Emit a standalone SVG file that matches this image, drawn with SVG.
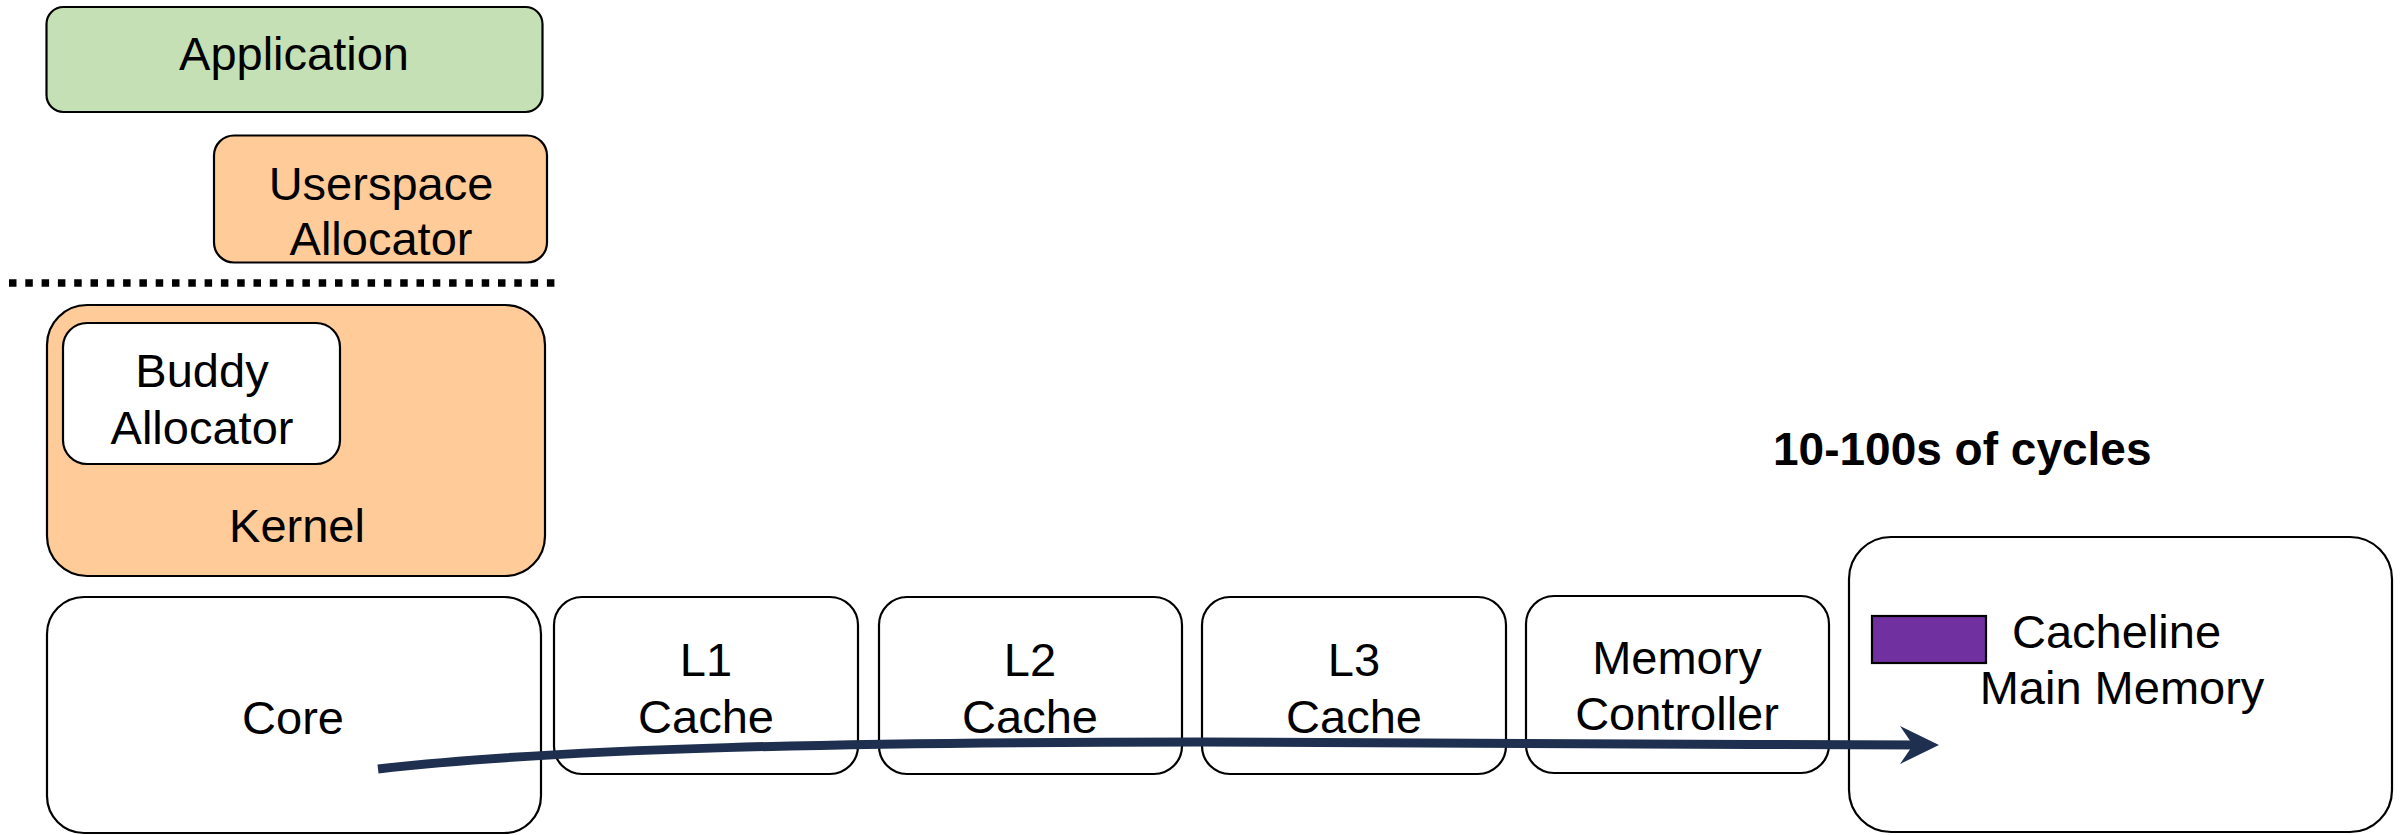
<svg xmlns="http://www.w3.org/2000/svg" width="2402" height="835" viewBox="0 0 2402 835">
  <style>
    .box { stroke: #000; stroke-width: 2.2; }
    .white { fill: #fff; }
    .orange { fill: #FFCC99; }
    .green { fill: #C5E0B4; }
    .lbl { font-family: "Liberation Sans", Arial, sans-serif; font-size: 47px; fill: #000; text-anchor: middle; }
    .title { font-family: "Liberation Sans", Arial, sans-serif; font-size: 46px; font-weight: bold; fill: #000; }
    .flow { fill: none; stroke: #1E2F50; stroke-width: 9; }
  </style>
  <defs>
    <marker id="stealth" markerUnits="userSpaceOnUse" markerWidth="40" markerHeight="40" viewBox="0 0 40 40" refX="25" refY="19" orient="auto">
      <path d="M0,0 L39,19 L0,38 L13,19 Z" fill="#1E2F50"/>
    </marker>
  </defs>

  <rect width="2402" height="835" fill="#fff"/>

  <!-- user / kernel boundary -->
  <line x1="9" y1="283" x2="558" y2="283" stroke="#000" stroke-width="7.5" stroke-dasharray="7.5 8.8"/>

  <g id="application">
    <rect class="box green" x="46.5" y="7" width="496" height="105" rx="17"/>
    <text class="lbl" x="294" y="70">Application</text>
  </g>

  <g id="userspace-allocator">
    <rect class="box orange" x="214" y="135.5" width="333" height="127" rx="20"/>
    <text class="lbl" x="381" y="200">Userspace</text>
    <text class="lbl" x="381" y="255">Allocator</text>
  </g>

  <g id="kernel">
    <rect class="box orange" x="47" y="305" width="498" height="271" rx="40"/>
    <text class="lbl" x="297" y="542">Kernel</text>
  </g>

  <g id="buddy-allocator">
    <rect class="box white" x="63" y="323" width="277" height="141" rx="24"/>
    <text class="lbl" x="202" y="387">Buddy</text>
    <text class="lbl" x="202" y="444">Allocator</text>
  </g>

  <g id="core">
    <rect class="box white" x="47" y="597" width="494" height="236" rx="37"/>
    <text class="lbl" x="293" y="734">Core</text>
  </g>

  <g id="l1-cache">
    <rect class="box white" x="554" y="597" width="304" height="177" rx="28"/>
    <text class="lbl" x="706" y="676">L1</text>
    <text class="lbl" x="706" y="733">Cache</text>
  </g>

  <g id="l2-cache">
    <rect class="box white" x="879" y="597" width="303" height="177" rx="28"/>
    <text class="lbl" x="1030" y="676">L2</text>
    <text class="lbl" x="1030" y="733">Cache</text>
  </g>

  <g id="l3-cache">
    <rect class="box white" x="1202" y="597" width="304" height="177" rx="28"/>
    <text class="lbl" x="1354" y="676">L3</text>
    <text class="lbl" x="1354" y="733">Cache</text>
  </g>

  <g id="memory-controller">
    <rect class="box white" x="1526" y="596" width="303" height="177" rx="28"/>
    <text class="lbl" x="1677" y="674">Memory</text>
    <text class="lbl" x="1677" y="730">Controller</text>
  </g>

  <g id="main-memory">
    <rect class="box white" x="1849" y="537" width="543" height="295" rx="42"/>
    <rect x="1872" y="616" width="114" height="47" fill="#7030A0" stroke="#000" stroke-width="2.2"/>
    <text class="lbl" x="2012" y="648" style="text-anchor:start">Cacheline</text>
    <text class="lbl" x="2122" y="704">Main Memory</text>
  </g>

  <g id="latency-label">
    <text class="title" x="1773" y="465">10-100s of cycles</text>
  </g>

  <g id="connectors">
    <path class="flow" d="M378,769 C560,748 850,742 1200,742 S1700,745 1925,745" marker-end="url(#stealth)"/>
  </g>
</svg>
